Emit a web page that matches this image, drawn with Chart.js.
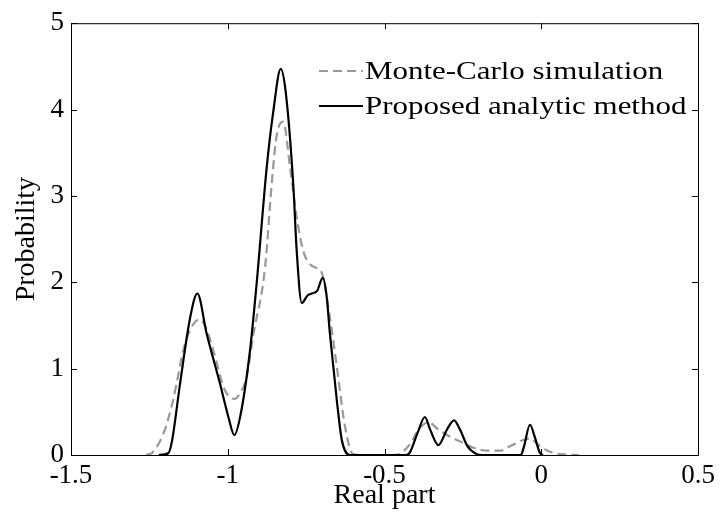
<!DOCTYPE html>
<html>
<head>
<meta charset="utf-8">
<title>Probability of real part</title>
<script src="https://cdn.jsdelivr.net/npm/chart.js@4.4.1/dist/chart.umd.min.js"></script>
<style>
  html, body { margin: 0; padding: 0; background: #fff; }
  #wrap { width: 720px; height: 523px; }
</style>
</head>
<body>
<div id="wrap"><canvas id="pdf-chart" width="720" height="523"></canvas></div>
<script>
// Monte-Carlo estimate (dashed grey)
const mcX = [-1.26, -1.24, -1.205, -1.18, -1.163, -1.142, -1.12, -1.089, -1.07, -1.046, -1.009, -0.979,
  -0.96, -0.94, -0.918, -0.881, -0.86, -0.844, -0.823, -0.801, -0.78, -0.759, -0.738, -0.72, -0.7,
  -0.674, -0.652, -0.626, -0.6, -0.56, -0.47, -0.445, -0.42, -0.39, -0.36, -0.33, -0.29, -0.25,
  -0.22, -0.17, -0.13, -0.1, -0.06, -0.036, -0.01, 0.02, 0.06, 0.12];
const mcY = [0, 0.03, 0.25, 0.55, 0.83, 1.21, 1.45, 1.57, 1.48, 1.21, 0.75, 0.65,
  0.72, 0.9, 1.4, 2.17, 3.13, 3.7, 3.86, 3.32, 2.75, 2.36, 2.21, 2.17, 2.11,
  1.59, 1.02, 0.33, 0.01, 0, 0, 0.03, 0.12, 0.3, 0.38, 0.3, 0.21, 0.14,
  0.09, 0.05, 0.05, 0.1, 0.17, 0.19, 0.12, 0.05, 0.01, 0];

// analytic density (solid black)
const anX = [-1.22, -1.19, -1.179, -1.152, -1.12, -1.097, -1.067, -1.025, -0.998, -0.979, -0.96,
  -0.929, -0.908, -0.876, -0.855, -0.831, -0.815, -0.791, -0.78, -0.764, -0.745, -0.732, -0.715,
  -0.697, -0.685, -0.674, -0.652, -0.636, -0.61, -0.43, -0.419, -0.395, -0.371, -0.355, -0.328,
  -0.3, -0.278, -0.26, -0.235, -0.206, -0.19, -0.065, -0.055, -0.036, -0.02, -0.005, 0.005];
const anY = [0, 0.02, 0.14, 0.83, 1.59, 1.87, 1.4, 0.83, 0.44, 0.23, 0.45,
  1.21, 1.98, 3.32, 3.97, 4.47, 4.2, 3.13, 2.36, 1.76, 1.85, 1.87, 1.9,
  2.05, 1.85, 1.4, 0.63, 0.17, 0, 0, 0.03, 0.25, 0.44, 0.3, 0.115,
  0.3, 0.4, 0.3, 0.1, 0.01, 0, 0, 0.1, 0.35, 0.2, 0.03, 0];

const xTicks = [-1.5, -1, -0.5, 0, 0.5];
const yTicks = [0, 1, 2, 3, 4, 5];
const seriesNames = ['Monte-Carlo simulation', 'Proposed analytic method'];

const serif = "'Liberation Serif', 'Times New Roman', serif";
const toPoints = (xs, ys) => xs.map((x, i) => ({ x: x, y: ys[i] }));

// box around the plot, inward ticks on every side, legend in the top right
const framePlugin = {
  id: 'frame',
  afterDraw(chart) {
    const { ctx, chartArea: a, scales } = chart;
    ctx.save();
    ctx.strokeStyle = '#000';
    ctx.lineWidth = 1;
    ctx.strokeRect(a.left + 0.5, a.top + 0.5, a.right - a.left, a.bottom - a.top);
    ctx.beginPath();
    xTicks.forEach(v => {
      const px = Math.round(scales.x.getPixelForValue(v)) + 0.5;
      ctx.moveTo(px, a.bottom); ctx.lineTo(px, a.bottom - 6);
      ctx.moveTo(px, a.top); ctx.lineTo(px, a.top + 6);
    });
    yTicks.forEach(v => {
      const py = Math.round(scales.y.getPixelForValue(v)) + 0.5;
      ctx.moveTo(a.left, py); ctx.lineTo(a.left + 6, py);
      ctx.moveTo(a.right, py); ctx.lineTo(a.right - 6, py);
    });
    ctx.stroke();

    // legend: sample line, then the label drawn slightly widened
    const lx = 319, tx = 365;
    const rows = [
      { y: 71, color: '#999999', dash: [9, 5] },
      { y: 106, color: '#000000', dash: [] }
    ];
    ctx.font = '26px ' + serif;
    ctx.textBaseline = 'middle';
    ctx.fillStyle = '#000';
    rows.forEach((r, i) => {
      ctx.beginPath();
      ctx.setLineDash(r.dash);
      ctx.strokeStyle = r.color;
      ctx.lineWidth = 2;
      ctx.moveTo(lx, r.y); ctx.lineTo(tx - 2, r.y);
      ctx.stroke();
      ctx.setLineDash([]);
      ctx.save();
      ctx.translate(tx, r.y + 1);
      ctx.scale(1.19, 1);
      ctx.fillText(seriesNames[i], 0, 0);
      ctx.restore();
    });
    ctx.restore();
  }
};

new Chart(document.getElementById('pdf-chart'), {
  type: 'line',
  data: {
    datasets: [
      {
        label: seriesNames[1],
        data: toPoints(anX, anY),
        borderColor: '#000000',
        borderWidth: 2.2,
        pointRadius: 0,
        cubicInterpolationMode: 'monotone',
        fill: false
      },
      {
        label: seriesNames[0],
        data: toPoints(mcX, mcY),
        borderColor: '#999999',
        borderWidth: 2.2,
        borderDash: [9, 5],
        pointRadius: 0,
        cubicInterpolationMode: 'monotone',
        fill: false
      }
    ]
  },
  options: {
    responsive: false,
    animation: false,
    layout: { padding: { top: 21, right: 22, left: 0, bottom: 0 } },
    plugins: {
      legend: { display: false },
      tooltip: { enabled: false }
    },
    scales: {
      x: {
        type: 'linear',
        min: -1.5,
        max: 0.5,
        afterFit: s => { s.height = 68; },
        afterBuildTicks: s => { s.ticks = xTicks.map(v => ({ value: v })); },
        grid: { display: false, drawTicks: false },
        border: { display: true, color: '#000' },
        ticks: {
          color: '#000',
          padding: 5,
          maxRotation: 0,
          font: { family: serif, size: 27 },
          callback: v => String(v)
        },
        title: {
          display: true,
          text: 'Real part',
          color: '#000',
          font: { family: serif, size: 28 },
          padding: { top: 0, bottom: 11 }
        }
      },
      y: {
        min: 0,
        max: 5,
        afterFit: s => { s.width = 71; },
        afterBuildTicks: s => { s.ticks = yTicks.map(v => ({ value: v })); },
        grid: { display: false, drawTicks: false },
        border: { display: true, color: '#000' },
        ticks: {
          color: '#000',
          padding: 7,
          font: { family: serif, size: 27 },
          callback: v => String(v)
        },
        title: {
          display: true,
          text: 'Probability',
          color: '#000',
          font: { family: serif, size: 28 },
          padding: { top: 10, bottom: 0 }
        }
      }
    }
  },
  plugins: [framePlugin]
});
</script>
</body>
</html>
